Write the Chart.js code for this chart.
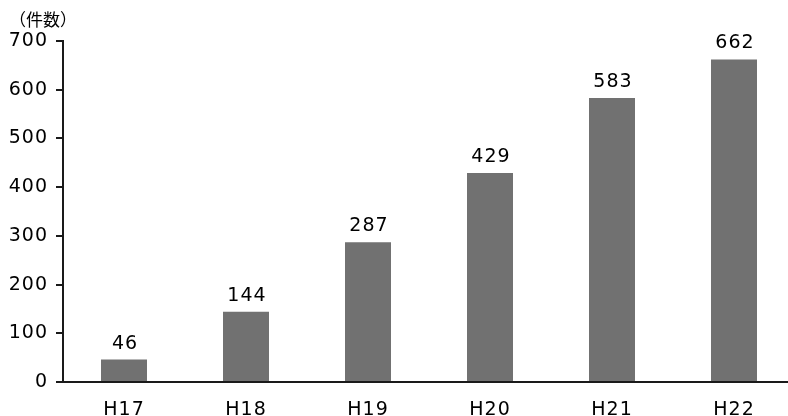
<!DOCTYPE html>
<html>
<head>
<meta charset="utf-8">
<script src="https://cdn.jsdelivr.net/npm/chart.js@4/dist/chart.umd.min.js"></script>
<style>
html,body{margin:0;padding:0;overflow:hidden;background:#fff;width:788px;height:416px;}
#wrap{position:absolute;left:0;top:0;width:800px;height:416px;}
</style>
</head>
<body>
<div id="wrap"><canvas id="c" width="800" height="416"></canvas></div>
<script>
const categories = ['H17', 'H18', 'H19', 'H20', 'H21', 'H22'];
const counts = [46, 144, 287, 429, 583, 662];
const yTicks = [0, 100, 200, 300, 400, 500, 600, 700];
const yUnitLabel = '（件数）';

const FONT = '"DejaVu Sans", sans-serif';
const TEXT = '#000000';
const SPACING = '1px';

const spacingPlugin = {
  id: 'spacing',
  beforeDraw(chart) { chart.ctx.letterSpacing = SPACING; }
};

const labelPlugin = {
  id: 'labels',
  afterDatasetsDraw(chart) {
    const ctx = chart.ctx;
    const meta = chart.getDatasetMeta(0);
    ctx.save();
    ctx.letterSpacing = SPACING;
    ctx.font = '19px ' + FONT;
    ctx.fillStyle = TEXT;
    ctx.textAlign = 'center';
    ctx.textBaseline = 'middle';
    meta.data.forEach((bar, i) => {
      ctx.fillText(String(counts[i]), bar.x + 1, bar.y - 16);
    });
    ctx.letterSpacing = '0px';
    ctx.font = '17px "Noto Sans CJK JP", sans-serif';
    ctx.textAlign = 'left';
    ctx.fillText(yUnitLabel, 9, 20);
    ctx.restore();
  }
};

new Chart(document.getElementById('c'), {
  type: 'bar',
  data: {
    labels: categories,
    datasets: [{
      data: counts,
      backgroundColor: '#717171',
      borderWidth: 0,
      categoryPercentage: 1,
      barPercentage: 0.377
    }]
  },
  options: {
    responsive: false,
    animation: false,
    devicePixelRatio: 1,
    layout: { padding: { top: 41, right: 5, left: 0, bottom: 0 } },
    plugins: { legend: { display: false }, tooltip: { enabled: false }, title: { display: false } },
    scales: {
      x: {
        grid: { display: false, drawTicks: false },
        border: { display: true, color: '#1a1a1a', width: 2 },
        ticks: { color: TEXT, font: { family: FONT, size: 19 }, padding: 17 },
        afterFit(s) { s.height = 34; }
      },
      y: {
        min: 0, max: 700,
        afterBuildTicks(s) { s.ticks = yTicks.map(v => ({ value: v })); },
        grid: { display: true, drawOnChartArea: false, drawTicks: true, tickLength: 7, color: '#1a1a1a', lineWidth: 2 },
        border: { display: true, color: '#1a1a1a', width: 2 },
        ticks: { color: TEXT, font: { family: FONT, size: 19 }, padding: 8 },
        afterFit(s) { s.width = 63; }
      }
    }
  },
  plugins: [spacingPlugin, labelPlugin]
});
</script>
</body>
</html>
